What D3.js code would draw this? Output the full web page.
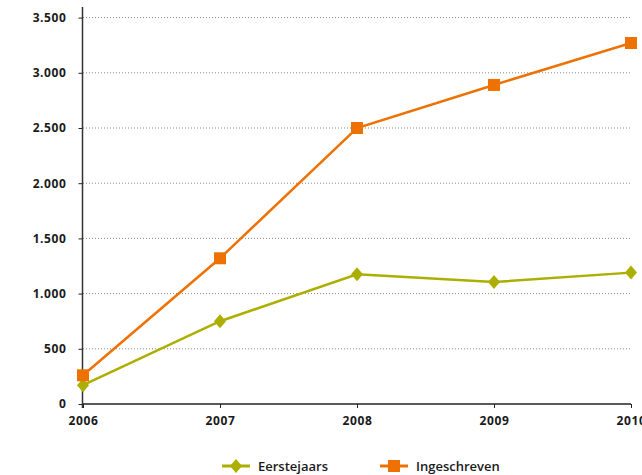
<!DOCTYPE html>
<html>
<head>
<meta charset="utf-8">
<script src="https://cdn.jsdelivr.net/npm/d3@7"></script>
<style>
body { margin: 0; background: #fff; }
svg text { font-family: "Open Sans", sans-serif; fill: #1a1a1a; }
</style>
</head>
<body>
<svg id="chart" width="642" height="475"></svg>
<script>
var years = [2006, 2007, 2008, 2009, 2010];
var eerstejaars = [170, 750, 1175, 1105, 1190];
var ingeschreven = [260, 1320, 2500, 2890, 3270];
var yTicks = [0, 500, 1000, 1500, 2000, 2500, 3000, 3500];

var olive = '#acaf00', orange = '#ee7203';

var svg = d3.select('#chart');
var x = d3.scaleLinear().domain([2006, 2010]).range([83, 631]);
var y = d3.scaleLinear().domain([0, 3500]).range([404, 17.6]);

var fmt = function(d) {
    return d3.format(',')(d).replace(/,/g, '.');
};

// gridlines
svg.append('g').selectAll('line')
    .data(yTicks.slice(1))
    .enter().append('line')
    .attr('x1', 83).attr('x2', 630)
    .attr('y1', function(d) { return y(d); })
    .attr('y2', function(d) { return y(d); })
    .attr('stroke', '#888')
    .attr('stroke-width', 1)
    .attr('stroke-dasharray', '1,2');

// y axis
var yAxis = svg.append('g')
    .attr('transform', 'translate(82.5,0)')
    .call(d3.axisLeft(y).tickValues(yTicks).tickSize(4).tickPadding(12).tickFormat(fmt));
yAxis.select('.domain').remove();
yAxis.append('line')
    .attr('x1', 0).attr('x2', 0).attr('y1', 7).attr('y2', 408)
    .attr('stroke', '#333').attr('stroke-width', 1.5);

// x axis
var xAxis = svg.append('g')
    .attr('transform', 'translate(0,404)')
    .call(d3.axisBottom(x).tickValues(years).tickSize(4).tickPadding(5).tickFormat(d3.format('d')));
xAxis.select('.domain').attr('d', 'M83,0H631').attr('stroke', '#222').attr('stroke-width', 1.3);

svg.selectAll('.tick line').attr('stroke', '#222');
svg.selectAll('.tick text')
    .style('font-size', '12px')
    .style('font-weight', 700)
    .style('letter-spacing', '0.6px')
    .attr('fill', '#1a1a1a');
xAxis.selectAll('.tick text').attr('dy', '1em');

var line = d3.line()
    .x(function(d, i) { return x(years[i]); })
    .y(function(d) { return y(d); });

function diamond(g, cx, cy) {
    g.append('path')
        .attr('d', 'M' + cx + ',' + (cy - 7) + 'L' + (cx + 6) + ',' + cy +
            'L' + cx + ',' + (cy + 7) + 'L' + (cx - 6) + ',' + cy + 'Z')
        .attr('fill', olive);
}
function square(g, cx, cy) {
    g.append('rect')
        .attr('x', cx - 6).attr('y', cy - 6)
        .attr('width', 12).attr('height', 12)
        .attr('fill', orange);
}

var s1 = svg.append('g');
s1.append('path').datum(eerstejaars).attr('d', line)
    .attr('fill', 'none').attr('stroke', olive).attr('stroke-width', 2.5);
eerstejaars.forEach(function(d, i) { diamond(s1, x(years[i]), y(d)); });

var s2 = svg.append('g');
s2.append('path').datum(ingeschreven).attr('d', line)
    .attr('fill', 'none').attr('stroke', orange).attr('stroke-width', 2.5);
ingeschreven.forEach(function(d, i) { square(s2, x(years[i]), y(d)); });

// legend
var legend = [
    {name: 'Eerstejaars', color: olive, mark: diamond, x: 222},
    {name: 'Ingeschreven', color: orange, mark: square, x: 380}
];
legend.forEach(function(l) {
    var g = svg.append('g');
    g.append('line').attr('x1', l.x).attr('x2', l.x + 28)
        .attr('y1', 466).attr('y2', 466)
        .attr('stroke', l.color).attr('stroke-width', 3);
    l.mark(g, l.x + 14, 466);
    g.append('text').attr('x', l.x + 36).attr('y', 471)
        .style('font-size', '13px').style('font-weight', 600)
        .text(l.name);
});
</script>
</body>
</html>
